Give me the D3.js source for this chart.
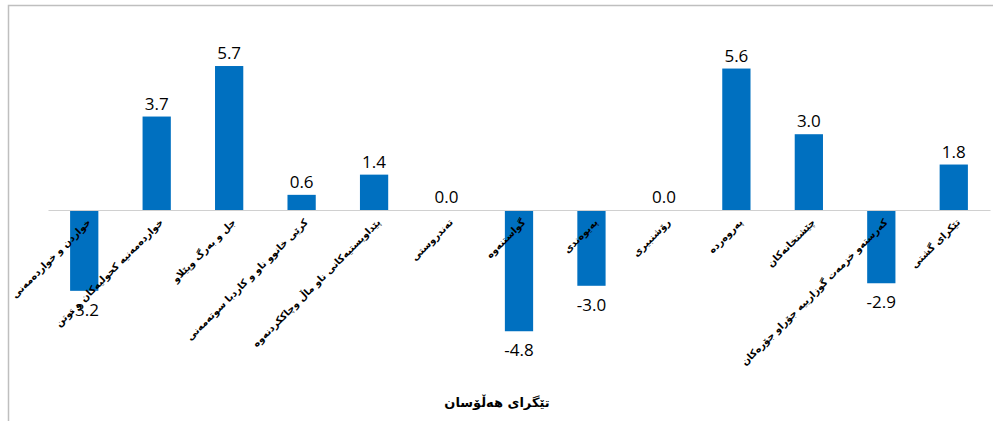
<!DOCTYPE html>
<html>
<head>
<meta charset="utf-8">
<script src="https://cdn.jsdelivr.net/npm/d3@7"></script>
<style>
  body { margin: 0; background: #fff; }
</style>
</head>
<body>
<div id="chart-area"></div>
<script>
// categories, right-to-left order as shown left to right
var categories = [
  "خواردن و خواردەمەنی",
  "خواردەمەنیە کحولیەکان و توتن",
  "جل و بەرگ وپێلاو",
  "کرێی خانوو ناو و کاردبا سوتەمەنی",
  "پێداویستیەکانی ناو ماڵ وچاککردنەوە",
  "تەندروستی",
  "گواستنەوە",
  "پەیوەندی",
  "رۆشنبیری",
  "پەروەردە",
  "چێشتخانەکان",
  "کەرستەو خزمەت گوزارییە جۆراو جۆرەکان",
  "تێکرای گشتی"
];
var values = [-3.2, 3.7, 5.7, 0.6, 1.4, 0.0, -4.8, -3.0, 0.0, 5.6, 3.0, -2.9, 1.8];
var axisTitle = "تێگرای هەڵۆسان";

var width = 993;
var height = 421;

var data = categories.map((c, i) => ({ name: c, value: values[i] }));

var svg = d3.select("#chart-area")
  .append("svg")
  .attr("width", width)
  .attr("height", height);

// outer frame (cropped on right and bottom)
svg.append("rect")
  .attr("x", 8.5)
  .attr("y", 5.5)
  .attr("width", width)
  .attr("height", height)
  .attr("fill", "none")
  .attr("stroke", "#bfbfbf")
  .attr("stroke-width", 1.5);

var x = d3.scaleBand()
  .domain(categories)
  .range([48, 990])
  .paddingInner(0.61)
  .paddingOuter(0.305);

var y = d3.scaleLinear()
  .domain([-6, 7])
  .range([210 + 6 * 25.26, 210 - 7 * 25.26]);

svg.selectAll("rect.bar")
  .data(data).enter()
  .append("rect")
  .attr("class", "bar")
  .attr("x", d => x(d.name))
  .attr("y", d => y(Math.max(0, d.value)))
  .attr("width", x.bandwidth())
  .attr("height", d => Math.abs(y(d.value) - y(0)))
  .attr("fill", "#0070c0");

// zero line
var bottomAxis = d3.axisBottom(x).tickSize(0).tickFormat("");
svg.append("g")
  .attr("class", "x axis")
  .attr("transform", "translate(0, " + y(0) + ")")
  .call(bottomAxis)
  .select(".domain")
  .attr("stroke", "#d0d0d0")
  .attr("stroke-width", 1.2);

// category labels
svg.selectAll("text.cat")
  .data(data).enter()
  .append("text")
  .attr("class", "cat")
  .attr("text-anchor", "end")
  .attr("font-family", "DejaVu Sans, sans-serif")
  .attr("font-weight", "bold")
  .attr("font-size", "9.8px")
  .attr("fill", "#000")
  .attr("transform", d => "translate(" + (x(d.name) + x.bandwidth() / 2 + 7) + "," + (y(0) + 13) + ") rotate(-45)")
  .text(d => d.name);

// value labels
svg.selectAll("text.val")
  .data(data).enter()
  .append("text")
  .attr("class", "val")
  .attr("text-anchor", "middle")
  .attr("font-family", "Open Sans, sans-serif")
  .attr("font-size", "17px")
  .attr("fill", "#000")
  .attr("x", d => x(d.name) + x.bandwidth() / 2)
  .attr("y", d => d.value < 0 ? y(d.value) + 25 : y(d.value) - 7)
  .text(d => d.value.toFixed(1));

svg.append("text")
  .attr("x", 497)
  .attr("y", 407)
  .attr("text-anchor", "middle")
  .attr("font-family", "DejaVu Sans, sans-serif")
  .attr("font-weight", "bold")
  .attr("font-size", "13px")
  .text(axisTitle);
</script>
</body>
</html>
